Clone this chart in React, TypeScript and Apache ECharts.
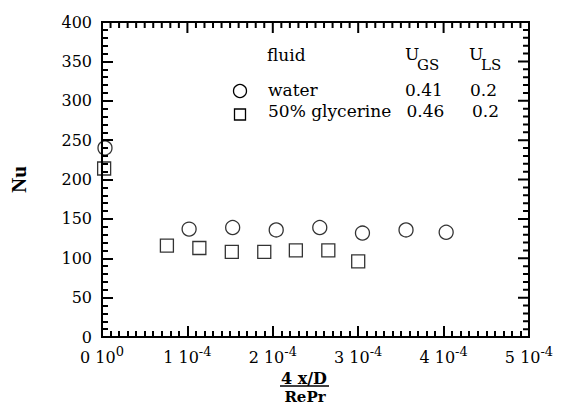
import React, { useEffect, useRef } from "react";
import * as echarts from "echarts";

// x values are in units of 1e-4 (4 x/D / RePr)
const waterX = [0.035, 1.02, 1.53, 2.04, 2.55, 3.05, 3.56, 4.03];
const waterNu = [240, 137, 139, 136, 139, 132, 136, 133];
const glycerineX = [0.025, 0.76, 1.14, 1.52, 1.9, 2.27, 2.65, 3.0];
const glycerineNu = [214, 116, 113, 108, 108, 110, 110, 96];

const xMin = 0;
const xMax = 5;
const xStep = 1;
const xMinorSplit = 10;
const yMin = 0;
const yMax = 400;
const yStep = 50;
const yMinorSplit = 5;

const fluids = ["water", "50% glycerine"];
const uGS = ["0.41", "0.46"];
const uLS = ["0.2", "0.2"];

const FONT = '"DejaVu Serif", "Liberation Serif", serif';
const TNR = '"Liberation Serif", "Times New Roman", serif';

function axisBase(min: number, max: number, step: number, minorSplit: number) {
  return {
    type: "value",
    min,
    max,
    interval: step,
    axisLine: { show: true, onZero: false, lineStyle: { color: "#000", width: 2 } },
    axisTick: { show: true, inside: true, length: 11, lineStyle: { color: "#000", width: 2 } },
    minorTick: { show: true, splitNumber: minorSplit, length: 6, lineStyle: { color: "#000", width: 2 } },
    splitLine: { show: false },
    minorSplitLine: { show: false },
  };
}

export default function App() {
  const ref = useRef<HTMLDivElement>(null);

  useEffect(() => {
    if (!ref.current) return;
    const chart = echarts.init(ref.current, null, { renderer: "svg" });

    const xLabel = {
      show: true,
      margin: 8,
      formatter: (v: number) => (v === 0 ? "{a|0 10}{s|0}" : `{a|${v} 10}{s|-4}`),
      rich: {
        a: { fontSize: 16, fontFamily: FONT, color: "#000", lineHeight: 24 },
        s: { fontSize: 13, fontFamily: FONT, color: "#000", lineHeight: 10, verticalAlign: "top" },
      },
    };

    chart.setOption({
      animation: false,
      backgroundColor: "#fff",
      textStyle: { fontFamily: FONT },
      grid: {
        left: 93,
        right: 32,
        top: 22,
        bottom: 70,
        show: true,
        borderColor: "#000",
        borderWidth: 2,
        backgroundColor: "rgba(0,0,0,0)",
      },
      xAxis: [{ ...axisBase(xMin, xMax, xStep, xMinorSplit), position: "bottom", axisLabel: xLabel }],
      yAxis: [
        {
          ...axisBase(yMin, yMax, yStep, yMinorSplit),
          position: "left",
          name: "Nu",
          nameLocation: "middle",
          nameGap: 73,
          nameTextStyle: { fontSize: 21, fontWeight: "bold", fontFamily: TNR, color: "#000" },
          axisLabel: { show: true, margin: 10, fontSize: 16, fontFamily: FONT, color: "#000" },
        },
      ],
      series: [
        {
          name: "water",
          type: "scatter",
          symbol: "circle",
          symbolSize: 14,
          itemStyle: { color: "rgba(255,255,255,0)", borderColor: "#000", borderWidth: 1.3 },
          data: waterX.map((x, i) => [x, waterNu[i]]),
        },
        {
          name: "50% glycerine",
          type: "scatter",
          symbol: "rect",
          symbolSize: 13,
          itemStyle: { color: "rgba(255,255,255,0)", borderColor: "#000", borderWidth: 1.3 },
          data: glycerineX.map((x, i) => [x, glycerineNu[i]]),
        },
      ],
    });

    // Mirrored ticks on the top and right sides, positioned with the chart's own scales
    const toPx = (x: number, y: number) => chart.convertToPixel({ xAxisIndex: 0, yAxisIndex: 0 }, [x, y]) as number[];
    const p1 = toPx(xMax, yMax);
    const right = Number(p1[0]);
    const top = Number(p1[1]);
    const topComb: number[][] = [];
    const nx = Math.round(((xMax - xMin) / xStep) * xMinorSplit);
    for (let k = 0; k <= nx; k++) {
      const px = Number(toPx(xMin + (k * xStep) / xMinorSplit, yMin)[0]);
      const len = k % xMinorSplit === 0 ? 11 : 6;
      topComb.push([px, top], [px, top + len], [px, top]);
    }
    const rightComb: number[][] = [];
    const ny = Math.round(((yMax - yMin) / yStep) * yMinorSplit);
    for (let k = 0; k <= ny; k++) {
      const py = Number(toPx(xMin, yMin + (k * yStep) / yMinorSplit)[1]);
      const len = k % yMinorSplit === 0 ? 11 : 6;
      rightComb.push([right, py], [right - len, py], [right, py]);
    }
    const comb = (points: number[][]) => ({
      type: "polyline",
      silent: true,
      shape: { points },
      style: { stroke: "#000", lineWidth: 2, fill: null },
    });

    const rowY = [90, 111];
    const legend: any[] = [
      { type: "text", style: { text: "fluid", x: 267, y: 55, textVerticalAlign: "middle", font: `17px ${FONT}`, fill: "#000" } },
      { type: "text", style: { text: "U", x: 405, y: 53.5, textVerticalAlign: "middle", font: `17px ${FONT}`, fill: "#000" } },
      { type: "text", style: { text: "GS", x: 417, y: 65, textVerticalAlign: "middle", font: `15px ${FONT}`, fill: "#000" } },
      { type: "text", style: { text: "U", x: 469, y: 53.5, textVerticalAlign: "middle", font: `17px ${FONT}`, fill: "#000" } },
      { type: "text", style: { text: "LS", x: 481, y: 65, textVerticalAlign: "middle", font: `15px ${FONT}`, fill: "#000" } },
      { type: "circle", shape: { cx: 240, cy: 91, r: 6.5 }, style: { fill: "#fff", stroke: "#000", lineWidth: 1.3 } },
      { type: "rect", shape: { x: 234.5, y: 109, width: 11, height: 11 }, style: { fill: "#fff", stroke: "#000", lineWidth: 1.3 } },
      { type: "text", style: { text: "4 x/D", x: 304, y: 378, textAlign: "center", textVerticalAlign: "middle", font: `bold 16px ${FONT}`, fill: "#000" } },
      { type: "line", shape: { x1: 280, y1: 386, x2: 329, y2: 386 }, style: { stroke: "#000", lineWidth: 1.5 } },
      { type: "text", style: { text: "RePr", x: 305, y: 397, textAlign: "center", textVerticalAlign: "middle", font: `bold 15px ${FONT}`, fill: "#000" } },
    ];
    fluids.forEach((f, i) => {
      legend.push(
        { type: "text", style: { text: f, x: 268, y: rowY[i], textVerticalAlign: "middle", font: `17px ${FONT}`, fill: "#000" } },
        { type: "text", style: { text: uGS[i], x: 405 + i * 1.5, y: rowY[i], textVerticalAlign: "middle", font: `17px ${FONT}`, fill: "#000" } },
        { type: "text", style: { text: uLS[i], x: 470 + i * 2, y: rowY[i], textVerticalAlign: "middle", font: `17px ${FONT}`, fill: "#000" } }
      );
    });

    chart.setOption({ graphic: [...legend, comb(topComb), comb(rightComb)] });

    return () => chart.dispose();
  }, []);

  return <div ref={ref} style={{ position: "fixed", left: 0, top: 0, width: 561, height: 407 }} />;
}
